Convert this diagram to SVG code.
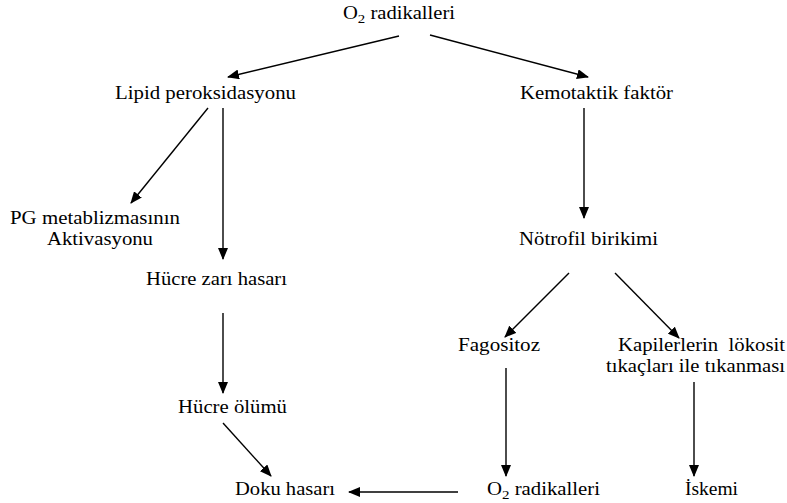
<svg xmlns="http://www.w3.org/2000/svg" width="787" height="503" viewBox="0 0 787 503">
<style>
.c line{stroke:#000;stroke-width:1.4;marker-end:url(#ah);}
</style>
<defs>
<marker id="ah" viewBox="0 0 12 10" refX="11" refY="5" markerWidth="12" markerHeight="10" markerUnits="userSpaceOnUse" orient="auto"><path d="M0,0 L12,5 L0,10 z" fill="#000"/></marker>
</defs>
<rect width="787" height="503" fill="#fff"/>
<g font-family="Liberation Serif" font-size="18" fill="#000">
<g id="n_o2top"><text x="343" y="19" textLength="112" lengthAdjust="spacingAndGlyphs">O<tspan dy="4" font-size="13">2</tspan><tspan dy="-4"> radikalleri</tspan></text></g>
<g id="n_lipid"><text x="115" y="99" textLength="181" lengthAdjust="spacingAndGlyphs">Lipid peroksidasyonu</text></g>
<g id="n_kemo"><text x="520" y="99" textLength="153" lengthAdjust="spacingAndGlyphs">Kemotaktik faktör</text></g>
<g id="n_pg"><text x="10" y="224" textLength="170" lengthAdjust="spacingAndGlyphs">PG metablizmasının</text><text x="47" y="245" textLength="106" lengthAdjust="spacingAndGlyphs">Aktivasyonu</text></g>
<g id="n_zar"><text x="146" y="285" textLength="141" lengthAdjust="spacingAndGlyphs">Hücre zarı hasarı</text></g>
<g id="n_notro"><text x="519" y="245" textLength="139" lengthAdjust="spacingAndGlyphs">Nötrofil birikimi</text></g>
<g id="n_fago"><text x="458" y="351" textLength="82" lengthAdjust="spacingAndGlyphs">Fagositoz</text></g>
<g id="n_kapi"><text x="618" y="351" textLength="167" lengthAdjust="spacingAndGlyphs" xml:space="preserve">Kapilerlerin  lökosit</text><text x="606" y="372" textLength="179" lengthAdjust="spacingAndGlyphs">tıkaçları ile tıkanması</text></g>
<g id="n_olum"><text x="178" y="413" textLength="109" lengthAdjust="spacingAndGlyphs">Hücre ölümü</text></g>
<g id="n_doku"><text x="235" y="495" textLength="100" lengthAdjust="spacingAndGlyphs">Doku hasarı</text></g>
<g id="n_o2bot"><text x="487" y="495" textLength="113" lengthAdjust="spacingAndGlyphs">O<tspan dy="4" font-size="13">2</tspan><tspan dy="-4"> radikalleri</tspan></text></g>
<g id="n_iskemi"><text x="685" y="495" textLength="53" lengthAdjust="spacingAndGlyphs">İskemi</text></g>
</g>
<g id="connectors" class="c">
<line x1="399" y1="36" x2="228" y2="77"/>
<line x1="430" y1="35" x2="588" y2="77"/>
<line x1="208" y1="108" x2="131" y2="203"/>
<line x1="223" y1="108" x2="223" y2="259"/>
<line x1="584" y1="108" x2="584" y2="218"/>
<line x1="223" y1="313" x2="223" y2="393"/>
<line x1="223" y1="423" x2="271" y2="476"/>
<line x1="458" y1="492" x2="349" y2="492"/>
<line x1="569" y1="273" x2="505" y2="337"/>
<line x1="615" y1="273" x2="679" y2="338"/>
<line x1="506" y1="368" x2="506" y2="476"/>
<line x1="694" y1="382" x2="694" y2="476"/>
</g>
</svg>
